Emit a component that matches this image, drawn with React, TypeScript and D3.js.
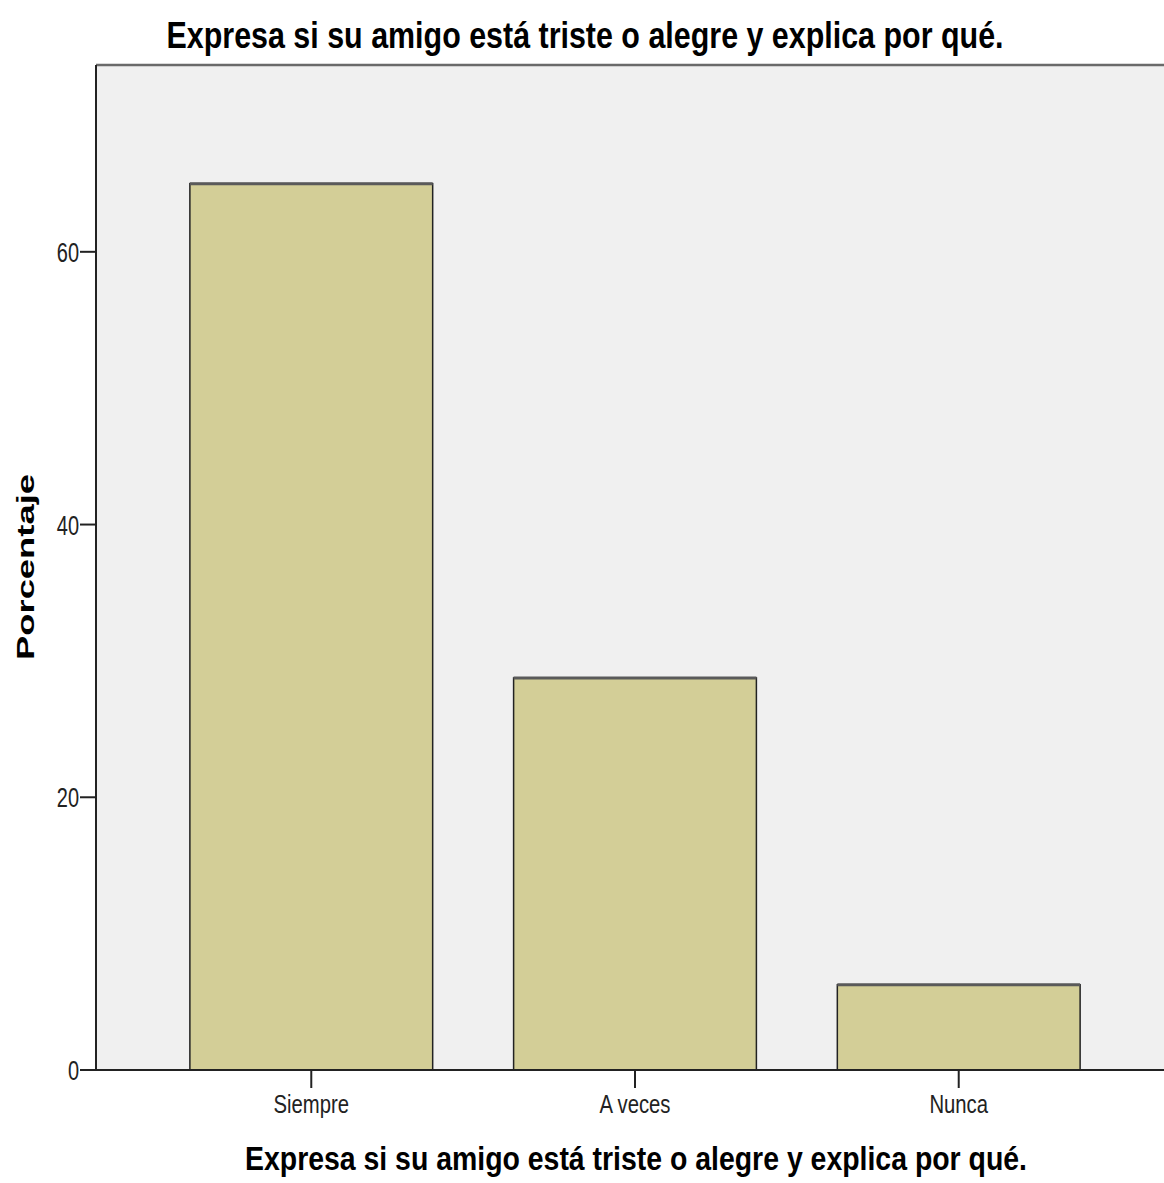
import React from "react";
import * as d3 from "d3";

const categories = ["Siempre", "A veces", "Nunca"];
const values = [65.0, 28.75, 6.25];
const yTicks = [0, 20, 40, 60];
const title = "Expresa si su amigo está triste o alegre y explica por qué.";
const yLabel = "Porcentaje";

const W = 1164;
const H = 1183;
const left = 96;
const top = 65;
const bottom = 1070;

export default function App() {
  const x = d3
    .scaleBand<string>()
    .domain(categories)
    .range([left, 1174])
    .paddingInner(0.25)
    .paddingOuter(0.29);
  const y = d3.scaleLinear().domain([0, 73.7]).range([bottom, top]);
  const font = "'Liberation Sans', Arial, sans-serif";
  return (
    <div style={{ position: "absolute", left: 0, top: 0 }}>
      <svg width={W} height={H} style={{ display: "block", background: "#fff" }}>
        <rect x={left} y={top} width={W - left} height={bottom - top} fill="#f0f0f0" />
        <line x1={left} x2={W} y1={top} y2={top} stroke="#6a6a6a" strokeWidth={2.5} />
        {categories.map((c, i) => {
          const x0 = x(c)!;
          const bw = x.bandwidth();
          const yt = y(values[i]);
          return (
            <g key={c}>
              <rect x={x0} y={yt} width={bw} height={bottom - yt} fill="#d3ce97" stroke="#222" strokeWidth={1.5} />
              <line x1={x0} x2={x0 + bw} y1={yt} y2={yt} stroke="#5a5a5a" strokeWidth={3} />
            </g>
          );
        })}
        <line x1={left} x2={left} y1={top} y2={bottom} stroke="#222" strokeWidth={2} />
        <line x1={left} x2={W} y1={bottom} y2={bottom} stroke="#222" strokeWidth={2} />
        {yTicks.map((t) => (
          <g key={t}>
            <line x1={left - 16} x2={left} y1={y(t)} y2={y(t)} stroke="#222" strokeWidth={2} />
            <text
              transform={`translate(${left - 17}, ${y(t) + 10}) scale(0.74, 1)`}
              textAnchor="end"
              fontFamily={font}
              fontSize={27}
              fill="#222"
            >
              {t}
            </text>
          </g>
        ))}
        {categories.map((c) => {
          const cx = x(c)! + x.bandwidth() / 2;
          return (
            <g key={c}>
              <line x1={cx} x2={cx} y1={bottom} y2={bottom + 18} stroke="#222" strokeWidth={2} />
              <text
                transform={`translate(${cx}, 1113) scale(0.78, 1)`}
                textAnchor="middle"
                fontFamily={font}
                fontSize={26}
                fill="#222"
              >
                {c}
              </text>
            </g>
          );
        })}
        <text
          x={585}
          y={48}
          textAnchor="middle"
          fontFamily={font}
          fontWeight="bold"
          fontSize={36}
          textLength={837}
          lengthAdjust="spacingAndGlyphs"
          fill="#000"
        >
          {title}
        </text>
        <text
          x={636}
          y={1170}
          textAnchor="middle"
          fontFamily={font}
          fontWeight="bold"
          fontSize={33}
          textLength={782}
          lengthAdjust="spacingAndGlyphs"
          fill="#000"
        >
          {title}
        </text>
        <text
          transform={`translate(34, 567) rotate(-90)`}
          textAnchor="middle"
          fontFamily={font}
          fontWeight="bold"
          fontSize={23}
          textLength={186}
          lengthAdjust="spacingAndGlyphs"
          fill="#000"
        >
          {yLabel}
        </text>
      </svg>
    </div>
  );
}
